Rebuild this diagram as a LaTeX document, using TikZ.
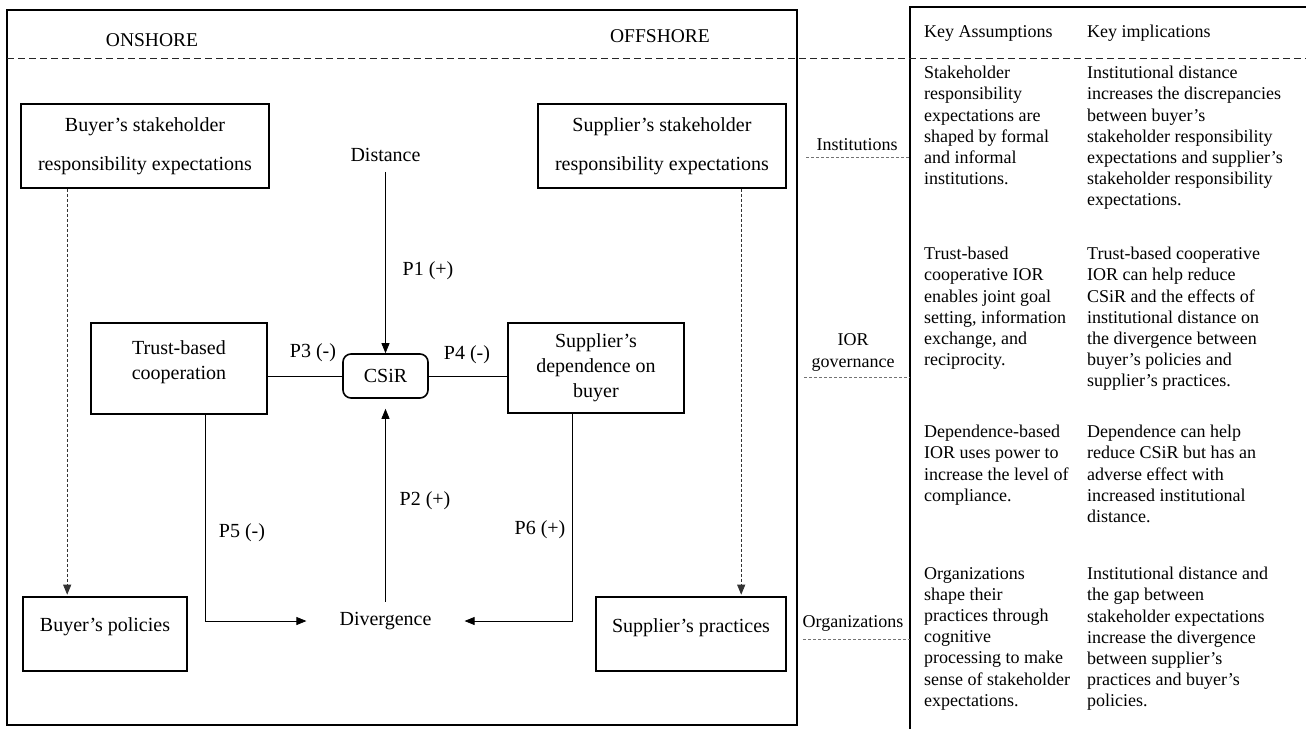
\documentclass[tikz,border=0pt]{standalone}
\usepackage{fontspec}
\setmainfont{Liberation Serif}
\usetikzlibrary{arrows.meta}
\begin{document}
\begin{tikzpicture}[x=1pt,y=-1pt,
  box/.style={draw=black, line width=1.6pt, inner sep=0pt, rectangle},
  btxt/.style={font=\fontsize{20}{25}\selectfont, align=center, inner sep=0pt},
  lbl/.style={font=\fontsize{20}{24}\selectfont, inner sep=0pt},
  hdr/.style={font=\fontsize{19.5}{24}\selectfont, inner sep=0pt},
  rl/.style={font=\fontsize{18}{21.2}\selectfont, align=center, inner sep=0pt},
  col/.style={font=\fontsize{18}{21.2}\selectfont, align=left, anchor=north west, inner sep=0pt},
  conn/.style={line width=0.8pt, draw=black},
  arr/.style={conn, -{Triangle[length=10pt,width=8pt]}},
  darr/.style={line width=0.8pt, draw=black!80, dash pattern=on 3pt off 2pt, -{Triangle[length=10pt,width=8pt]}},
  ldash/.style={line width=0.8pt, draw=black!55, dash pattern=on 3pt off 2pt},
  topdash/.style={line width=0.8pt, draw=black!85, dash pattern=on 7pt off 4pt}
]
\useasboundingbox (0,0) rectangle (1306,729);
\fill[white] (0,0) rectangle (1306,729);

% outer frame and table
\draw[line width=1.6pt] (7,10) rectangle (797,725);
\coordinate (tabtop) at (910,7);
\coordinate (tabbot) at (910,729);
\coordinate (tabright) at (1306,7);
\draw[line width=1.2pt] (tabbot) -- (tabtop) -- (tabright);
\coordinate (dashL) at (7,58);
\coordinate (dashR) at (1306,58);
\draw[topdash] (dashL) -- (dashR);

% headers
\node[hdr] (onshore) at (152,40) {ONSHORE};
\node[hdr] (offshore) at (660,36) {OFFSHORE};
\node[rl, anchor=west] (ka) at (924,33) {Key Assumptions};
\node[rl, anchor=west] (ki) at (1087,33) {Key implications};

% boxes
\node[box, minimum width=248pt, minimum height=84pt, font=\fontsize{20}{39}\selectfont, align=center] (bse) at (145,146) {Buyer’s stakeholder\\responsibility expectations};
\node[box, minimum width=248pt, minimum height=84pt, font=\fontsize{20}{39}\selectfont, align=center] (sse) at (662,146) {Supplier’s stakeholder\\responsibility expectations};
\node[box, minimum width=176pt, minimum height=91pt] (trust) at (179,368.5) {};
\node[btxt] (trustT) at (179,362) {Trust-based\\cooperation};
\node[box, minimum width=176pt, minimum height=90pt, font=\fontsize{20}{25}\selectfont, align=center] (supdep) at (596,368) {Supplier’s\\dependence on\\buyer};
\node[box, rounded corners=8pt, minimum width=85pt, minimum height=44pt, font=\fontsize{20}{24}\selectfont] (csir) at (385.5,376) {CSiR};
\node[box, minimum width=164pt, minimum height=74pt] (bpol) at (105,634) {};
\node[btxt] (bpolT) at (105,627) {Buyer’s policies};
\node[box, minimum width=190pt, minimum height=74pt] (sprac) at (691,634) {};
\node[btxt] (spracT) at (691,628) {Supplier’s practices};

% free texts
\node[lbl, inner ysep=10pt] (dist) at (385.5,155) {Distance};
\node[lbl, inner xsep=33pt, inner ysep=0pt, minimum height=38pt] (div) at (385.5,621) {Divergence};

% proposition labels
\node[lbl] (p1) at (428,271) {P1 (+)};
\node[lbl] (p2) at (425,501) {P2 (+)};
\node[lbl] (p3) at (313,353) {P3 (-)};
\node[lbl] (p4) at (467,355) {P4 (-)};
\node[lbl] (p5) at (242,533) {P5 (-)};
\node[lbl] (p6) at (540,530) {P6 (+)};

% connectors
\draw[arr] (dist.south) -- (csir.north);
\draw[arr] (div.north) -- ([yshift=-10pt]csir.south);
\draw[conn] (trust.east |- csir.west) -- (csir.west);
\draw[conn] (csir.east) -- (csir.east -| supdep.west);
\draw[arr] ([xshift=26pt]trust.south) |- (div.west);
\draw[arr] ([xshift=-24pt]supdep.south) |- (div.east);
\coordinate (bd) at ([xshift=47pt]bse.south west);
\draw[darr] (bd) -- ([yshift=1.5pt]bd |- bpol.north);
\coordinate (sd) at ([xshift=204pt]sse.south west);
\draw[darr] (sd) -- ([yshift=1.5pt]sd |- sprac.north);

% level labels
\node[rl] (inst) at (857,145) {Institutions};
\coordinate (instL) at (806,157);
\draw[ldash] (instL) -- (instL -| tabtop);
\node[rl] (ior) at (853,352.5) {IOR\\governance};
\coordinate (iorL) at (804,377);
\draw[ldash] (iorL) -- (iorL -| tabtop);
\node[rl] (org) at (853,623) {Organizations};
\coordinate (orgL) at (803,639);
\draw[ldash] (orgL) -- (orgL -| tabtop);

% table text
\node[col] (a1) at (924,66) {Stakeholder\\responsibility\\expectations are\\shaped by formal\\and informal\\institutions.};
\node[col] (b1) at (1087,66) {Institutional distance\\increases the discrepancies\\between buyer’s\\stakeholder responsibility\\expectations and supplier’s\\stakeholder responsibility\\expectations.};
\node[col] (a2) at (924,247) {Trust-based\\cooperative IOR\\enables joint goal\\setting, information\\exchange, and\\reciprocity.};
\node[col] (b2) at (1087,247) {Trust-based cooperative\\IOR can help reduce\\CSiR and the effects of\\institutional distance on\\the divergence between\\buyer’s policies and\\supplier’s practices.};
\node[col] (a3) at (924,425) {Dependence-based\\IOR uses power to\\increase the level of\\compliance.};
\node[col] (b3) at (1087,425) {Dependence can help\\reduce CSiR but has an\\adverse effect with\\increased institutional\\distance.};
\node[col] (a4) at (924,567) {Organizations\\shape their\\practices through\\cognitive\\processing to make\\sense of stakeholder\\expectations.};
\node[col] (b4) at (1087,567) {Institutional distance and\\the gap between\\stakeholder expectations\\increase the divergence\\between supplier’s\\practices and buyer’s\\policies.};
\end{tikzpicture}
\end{document}
